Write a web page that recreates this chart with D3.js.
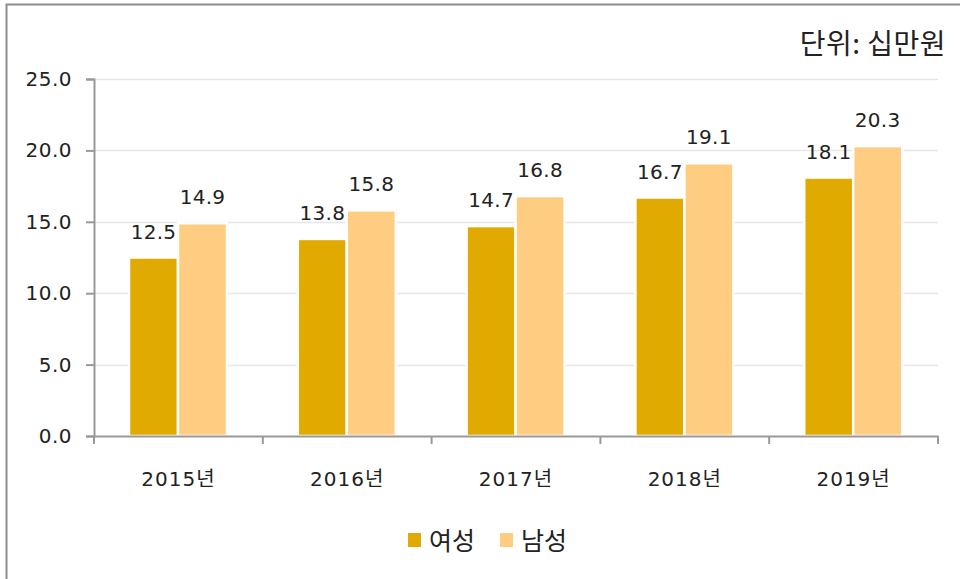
<!DOCTYPE html>
<html>
<head>
<meta charset="utf-8">
<script src="https://cdn.jsdelivr.net/npm/d3@7"></script>
<style>
  body { margin: 0; background: #fff; }
  svg text { font-family: "DejaVu Sans", "Noto Sans CJK KR", sans-serif; fill: #222; }
  .kr { font-family: "Noto Sans CJK KR", sans-serif; }
</style>
</head>
<body>
<svg id="chart" width="960" height="579"></svg>
<script>
// chart data
const years = ["2015년", "2016년", "2017년", "2018년", "2019년"];
const female = [12.5, 13.8, 14.7, 16.7, 18.1];
const male = [14.9, 15.8, 16.8, 19.1, 20.3];
const seriesNames = ["여성", "남성"];
const yTicks = [0, 5, 10, 15, 20, 25];

const colors = ["#e1aa00", "#ffcd82"];

const svg = d3.select("#chart");

// outer frame (runs off the right/bottom of the picture)
svg.append("rect")
    .attr("x", 6.5).attr("y", 4.5)
    .attr("width", 970).attr("height", 600)
    .attr("fill", "none")
    .attr("stroke", "#8c8c8c")
    .attr("stroke-width", 2);

const plotL = 94, plotR = 938, plotT = 79, plotB = 436;

const x = d3.scaleBand()
    .domain(years)
    .range([plotL, plotR]);

const y = d3.scaleLinear()
    .domain([0, 25])
    .range([plotB, plotT]);

// inner band for the two bars
const xs = d3.scaleBand()
    .domain([0, 1])
    .range([35, 35 + 98]);

// gridlines
svg.append("g")
    .selectAll("line")
    .data(yTicks.filter(d => d > 0))
    .join("line")
    .attr("x1", plotL).attr("x2", plotR)
    .attr("y1", d => Math.round(y(d)) + 0.5)
    .attr("y2", d => Math.round(y(d)) + 0.5)
    .attr("stroke", "#e6e6e6")
    .attr("stroke-width", 1.5);

// bars
const rows = years.map((yr, i) => ({ yr, vals: [female[i], male[i]] }));

const groups = svg.append("g")
    .selectAll("g")
    .data(rows)
    .join("g")
    .attr("transform", d => `translate(${x(d.yr)},0)`);

groups.selectAll("rect")
    .data(d => d.vals.map((v, k) => ({ v, k })))
    .join("rect")
    .attr("x", d => xs(d.k))
    .attr("width", xs.bandwidth())
    .attr("y", d => y(d.v))
    .attr("height", d => y(0) - y(d.v))
    .attr("fill", d => colors[d.k])
    .attr("stroke", "#fff")
    .attr("stroke-width", 2.5);

groups.selectAll("text")
    .data(d => d.vals.map((v, k) => ({ v, k })))
    .join("text")
    .attr("x", d => xs(d.k) + xs.bandwidth() / 2)
    .attr("y", d => y(d.v) - 19)
    .attr("text-anchor", "middle")
    .style("font-size", "20px")
    .style("letter-spacing", "0.3px")
    .text(d => d.v.toFixed(1));

// y axis
const yAxis = svg.append("g")
    .attr("transform", `translate(${plotL},0)`)
    .call(d3.axisLeft(y).tickValues(yTicks).tickSize(8).tickPadding(14)
        .tickFormat(d => d.toFixed(1)));
yAxis.select(".domain").attr("stroke", "#999").attr("stroke-width", 2);
yAxis.selectAll(".tick line").attr("stroke", "#999").attr("stroke-width", 2);
yAxis.selectAll(".tick text").style("font-size", "20px")
    .style("letter-spacing", "0.5px").attr("fill", "#222");

// x axis
const xAxis = svg.append("g")
    .attr("transform", `translate(0,${plotB})`)
    .call(d3.axisBottom(x).tickSize(0).tickPadding(36));
xAxis.select(".domain").attr("stroke", "#999").attr("stroke-width", 2);
xAxis.selectAll(".tick text").style("font-size", "20px")
    .style("letter-spacing", "1px").attr("fill", "#222");

// category boundary ticks
svg.append("g")
    .selectAll("line")
    .data(years.map(d => x(d)).concat([plotR]))
    .join("line")
    .attr("x1", d => d).attr("x2", d => d)
    .attr("y1", plotB).attr("y2", plotB + 8)
    .attr("stroke", "#999")
    .attr("stroke-width", 2);

// unit label
svg.append("text")
    .attr("class", "kr")
    .attr("x", 946).attr("y", 54)
    .attr("text-anchor", "end")
    .style("font-size", "28px")
    .style("letter-spacing", "0.5px")
    .text("단위: 십만원");

// legend
const legendX = [408, 500];
const legend = svg.append("g")
    .selectAll("g")
    .data(seriesNames)
    .join("g")
    .attr("transform", (d, i) => `translate(${legendX[i]},533)`);

legend.append("rect")
    .attr("width", 13).attr("height", 14)
    .attr("fill", (d, i) => colors[i]);

legend.append("text")
    .attr("class", "kr")
    .attr("x", 21).attr("y", 17)
    .style("font-size", "25px")
    .text(d => d);
</script>
</body>
</html>
